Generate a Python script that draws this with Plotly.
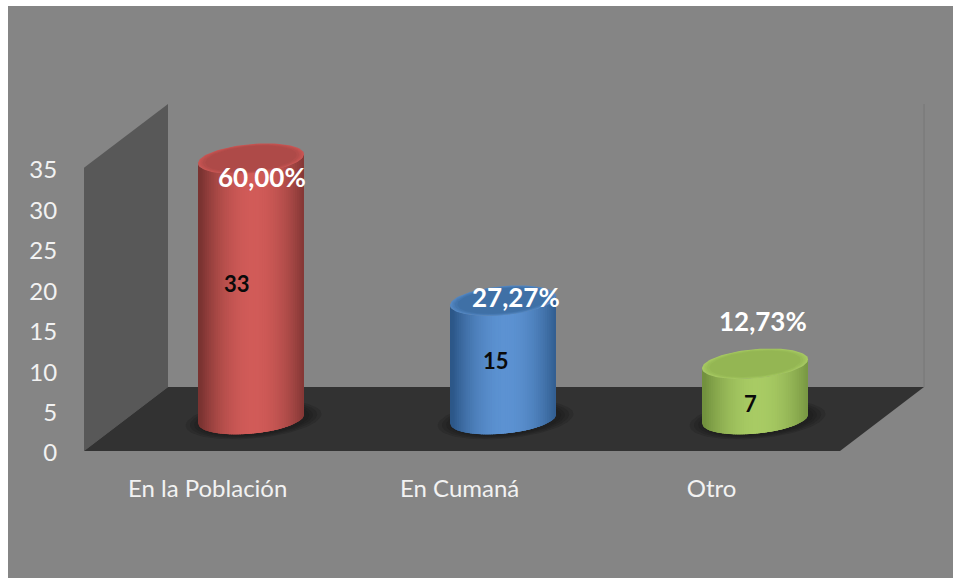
"""3D-style cylinder chart drawn with Plotly scatter fills."""

import numpy as np
import plotly.graph_objects as go

categories = ["En la Población", "En Cumaná", "Otro"]
counts = [33, 15, 7]
percents = ["60,00%", "27,27%", "12,73%"]
y_ticks = [0, 5, 10, 15, 20, 25, 30, 35]

# side dark, side light, top centre, top rim
palette = [
    ("#7a3331", "#d15b58", "#ae4a48", "#c85553"),
    ("#2c5788", "#5c92d2", "#3f70a6", "#5488c4"),
    ("#72913e", "#a8cb64", "#94b653", "#a6c962"),
]

# chart frame, in page pixels
LEFT, RIGHT, TOP, BOTTOM = 84, 924, 104, 451
FIG_W, FIG_H = 953, 578
PX_PER_CAT = 252
PX_PER_UNIT = 8.09
FIRST_CENTER = 251
DEPTH_X, DEPTH_Y = 84, 64
HEIGHT_SCALE = 0.975  # the cylinders sit further back, so they read a bit smaller

x_range = [(LEFT - FIRST_CENTER) / PX_PER_CAT, (RIGHT - FIRST_CENTER) / PX_PER_CAT]
y_range = [0, (BOTTOM - TOP) / PX_PER_UNIT]

dx = DEPTH_X / PX_PER_CAT
dy = DEPTH_Y / PX_PER_UNIT
base_y = dy / 2
half_w = 53 / PX_PER_CAT
ell_b = 14.6 / PX_PER_UNIT
ell_k = 4.5 / PX_PER_UNIT


def mix(c0, c1, t):
    a = [int(c0[i:i + 2], 16) for i in (1, 3, 5)]
    b = [int(c1[i:i + 2], 16) for i in (1, 3, 5)]
    return "rgb(%d,%d,%d)" % tuple(round(p + (q - p) * t) for p, q in zip(a, b))


def poly(x, y, color, opacity=1.0):
    return go.Scatter(
        x=x, y=y, mode="lines", fill="toself", fillcolor=color, opacity=opacity,
        line=dict(width=0, color=color), hoverinfo="skip", showlegend=False,
    )


def ellipse(cx, cy, scale=1.0):
    t = np.linspace(0, 2 * np.pi, 90)
    x = cx + half_w * scale * np.cos(t)
    y = cy + ell_b * scale * np.sin(t) + ell_k * scale * np.cos(t)
    return x.tolist(), y.tolist()


def front_edge(cy, u):
    return cy - ell_b * np.sqrt(np.clip(1 - u ** 2, 0, 1)) + ell_k * u


def cylinder_traces(i, value, colors):
    dark, light, top_mid, top_rim = colors
    top_y = base_y + value * HEIGHT_SCALE
    traces = []

    # soft shadow on the floor
    for s in (1.28, 1.2, 1.12, 1.05):
        sx, sy = ellipse(i + 0.01, base_y - 0.1, s)
        traces.append(poly(sx, sy, "#141414", opacity=0.2))

    # side, strips overlap to the right so no seams show
    edges = np.linspace(-1, 1, 49)
    for n, u0 in enumerate(edges[:-1]):
        u_mid = (u0 + edges[n + 1]) / 2
        us = np.linspace(u0, min(1.0, edges[n + 1] + 0.1), 12)
        xs = i + half_w * us
        low = front_edge(base_y, us)
        high = front_edge(top_y, us)
        shade = 1 - abs(u_mid - 0.05) ** 2.0
        traces.append(poly(
            np.concatenate([xs, xs[::-1]]).tolist(),
            np.concatenate([low, high[::-1]]).tolist(),
            mix(dark, light, max(shade, 0)),
        ))

    # top face with a soft bevel
    for s, t in ((1.0, 0.0), (0.97, 0.25), (0.94, 0.5), (0.91, 0.75), (0.86, 1.0)):
        ex, ey = ellipse(i, top_y, s)
        traces.append(poly(ex, ey, mix(top_rim, top_mid, t)))
    return traces


fig = go.Figure()

# side wall and floor
fig.add_trace(poly(
    [x_range[0], x_range[0] + dx, x_range[0] + dx, x_range[0], x_range[0]],
    [0, dy, y_range[1], 35, 0],
    "#585858",
))
fig.add_trace(poly(
    [x_range[0], x_range[1] - dx, x_range[1], x_range[0] + dx, x_range[0]],
    [0, 0, dy, dy, 0],
    "#323232",
))

for i, value in enumerate(counts):
    for tr in cylinder_traces(i, value, palette[i]):
        fig.add_trace(tr)

annotations = []
pct_shift = [(11, -18), (13, 4), (8, 43)]
count_shift = [(-14, 5), (-7, -1), (-5, -12)]
for i, value in enumerate(counts):
    top_y = base_y + value * HEIGHT_SCALE
    annotations.append(dict(
        x=i, y=top_y, text="<b>%s</b>" % percents[i], showarrow=False,
        xshift=pct_shift[i][0], yshift=pct_shift[i][1],
        font=dict(family="Lato", size=26, color="#ffffff"),
    ))
    annotations.append(dict(
        x=i, y=base_y + value * HEIGHT_SCALE / 2, text="<b>%d</b>" % value, showarrow=False,
        xshift=count_shift[i][0], yshift=count_shift[i][1],
        font=dict(family="Lato", size=22, color="#0a0a0a"),
    ))

plot_w = RIGHT - LEFT
plot_h = BOTTOM - TOP


def paper_x(px):
    return (px - LEFT) / plot_w


def paper_y(py):
    return (BOTTOM - py) / plot_h


fig.update_layout(
    width=FIG_W, height=FIG_H,
    margin=dict(l=LEFT, r=FIG_W - RIGHT, t=TOP, b=FIG_H - BOTTOM, pad=0),
    paper_bgcolor="#ffffff",
    plot_bgcolor="rgba(0,0,0,0)",
    showlegend=False,
    annotations=annotations,
    shapes=[
        # grey card behind the chart
        dict(type="rect", xref="paper", yref="paper", layer="below", line_width=0,
             fillcolor="#858585", x0=paper_x(8), x1=paper_x(FIG_W),
             y0=paper_y(FIG_H), y1=paper_y(6)),
        # right edge of the back wall
        dict(type="line", xref="paper", yref="paper", layer="below",
             line=dict(color="#767676", width=1), x0=1, x1=1,
             y0=paper_y(BOTTOM - DEPTH_Y), y1=1),
    ],
    xaxis=dict(
        range=x_range, showgrid=False, zeroline=False, showline=False,
        tickmode="array", tickvals=[i - 0.172 for i in range(len(categories))],
        ticktext=categories, ticks="outside", ticklen=16,
        tickcolor="rgba(0,0,0,0)", tickfont=dict(family="Lato", size=24, color="#f2f2f2"),
    ),
    yaxis=dict(
        range=y_range, showgrid=False, zeroline=False, showline=False,
        tickmode="array", tickvals=y_ticks, ticks="outside", ticklen=21,
        tickcolor="rgba(0,0,0,0)", tickfont=dict(family="Lato", size=24, color="#f2f2f2"),
        ticklabelshift=2,
    ),
)

fig.write_html("out.html", config=dict(displayModeBar=False),
               post_script="document.body.style.margin='0';")
